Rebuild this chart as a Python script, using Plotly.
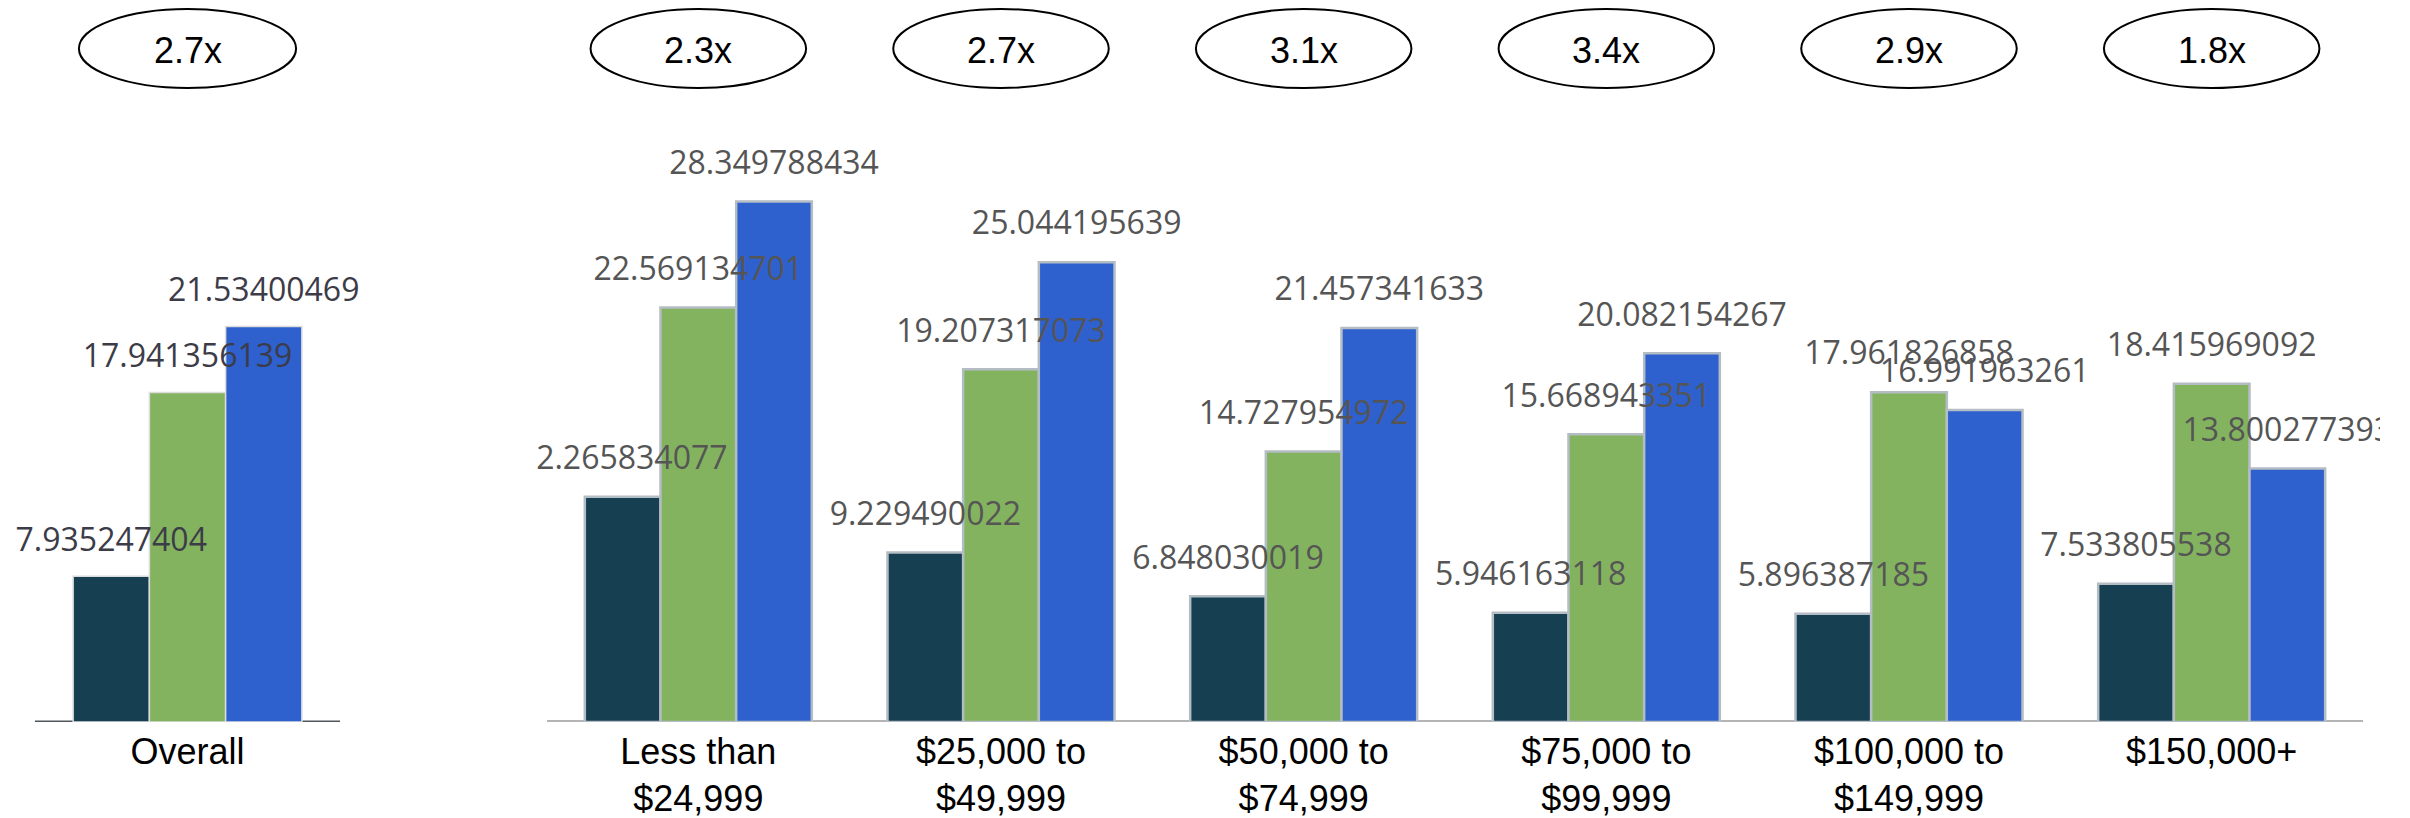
import plotly.graph_objects as go

# ---------------- data ----------------
overall_label = ["Overall"]
income_labels = ["Less than<br>$24,999", "$25,000 to<br>$49,999", "$50,000 to<br>$74,999",
                 "$75,000 to<br>$99,999", "$100,000 to<br>$149,999", "$150,000+"]

overall_dark = [7.935247404]
overall_green = [17.941356139]
overall_blue = [21.53400469]

income_dark = [12.265834077, 9.229490022, 6.848030019, 5.946163118, 5.896387185, 7.533805538]
income_green = [22.569134701, 19.207317073, 14.727954972, 15.668943351, 17.961826858, 18.415969092]
income_blue = [28.349788434, 25.044195639, 21.457341633, 20.082154267, 16.991963261, 13.800277393]

overall_ratio = ["2.7x"]
income_ratios = ["2.3x", "2.7x", "3.1x", "3.4x", "2.9x", "1.8x"]

series_names = ["Series 1", "Series 2", "Series 3"]

# ---------------- style ----------------
COLORS = ["#163F52", "#84B360", "#2E60CE"]
W, H = 2410, 818
BOTTOM = 96          # px below the zero line
YMAX = 39.32         # value range shown in the plot height
LABEL_FONT = "Open Sans, Arial, sans-serif"
TICK_FONT = "Liberation Sans, Arial, sans-serif"

fig = go.Figure()

left_series = [overall_dark, overall_green, overall_blue]
right_series = [income_dark, income_green, income_blue]

for i in range(3):
    fig.add_trace(go.Bar(
        x=overall_label, y=left_series[i], name=series_names[i],
        xaxis="x", yaxis="y",
        marker=dict(color=COLORS[i], line=dict(color="#dcdcdc", width=1.5)),
        showlegend=False, hoverinfo="y"))
for i in range(3):
    fig.add_trace(go.Bar(
        x=income_labels, y=right_series[i], name=series_names[i],
        xaxis="x2", yaxis="y2",
        marker=dict(color=COLORS[i], line=dict(color="#b4bcc4", width=2.5)),
        showlegend=False, hoverinfo="y"))

# value labels (grouped scatter text, aligned with the grouped bars)
for i in range(3):
    fig.add_trace(go.Scatter(
        x=overall_label, y=left_series[i], xaxis="x", yaxis="y",
        mode="markers+text", text=[str(v) for v in left_series[i]],
        textposition="top center", orientation="v",
        marker=dict(size=26, opacity=0),
        textfont=dict(family=LABEL_FONT, size=32, color="#3c3c48"),
        cliponaxis=False, showlegend=False, hoverinfo="skip"))
for i in range(3):
    fig.add_trace(go.Scatter(
        x=income_labels, y=right_series[i], xaxis="x2", yaxis="y2",
        mode="markers+text", text=[str(v) for v in right_series[i]],
        textposition="top center", orientation="v",
        marker=dict(size=30, opacity=0),
        textfont=dict(family=LABEL_FONT, size=32, color="#555555"),
        cliponaxis=True, showlegend=False, hoverinfo="skip"))

shapes = []
annotations = []
ELL_HALF = 0.356
ELL_Y0 = 1 - 88 / (H - BOTTOM)
ELL_Y1 = 1 - 9 / (H - BOTTOM)
TXT_Y = 1 - 50 / (H - BOTTOM)

# left panel
shapes.append(dict(type="line", xref="x", yref="y", x0=-0.5, x1=0.5, y0=0, y1=0,
                   line=dict(color="#50555c", width=3), layer="below"))
for k, r in enumerate(overall_ratio):
    shapes.append(dict(type="circle", xref="x", yref="paper",
                       x0=k - ELL_HALF, x1=k + ELL_HALF, y0=ELL_Y0, y1=ELL_Y1,
                       line=dict(color="black", width=2)))
    annotations.append(dict(xref="x", yref="paper", x=k, y=TXT_Y, text=r, showarrow=False,
                            xanchor="center", yanchor="middle",
                            font=dict(family=TICK_FONT, size=36, color="black")))

# right panel
shapes.append(dict(type="line", xref="x2", yref="y2", x0=-0.5, x1=len(income_labels) - 0.5,
                   y0=0, y1=0, line=dict(color="#b4b4b4", width=4), layer="below"))
for k, r in enumerate(income_ratios):
    shapes.append(dict(type="circle", xref="x2", yref="paper",
                       x0=k - ELL_HALF, x1=k + ELL_HALF, y0=ELL_Y0, y1=ELL_Y1,
                       line=dict(color="black", width=2)))
    annotations.append(dict(xref="x2", yref="paper", x=k, y=TXT_Y, text=r, showarrow=False,
                            xanchor="center", yanchor="middle",
                            font=dict(family=TICK_FONT, size=36, color="black")))

pad = 17 / ((2363 - 547) / 6)
axis_common = dict(type="category", showgrid=False, zeroline=False, showline=False,
                   ticks="", ticklabelstandoff=5, automargin=False,
                   tickfont=dict(family=TICK_FONT, size=36, color="black"),
                   fixedrange=True)

fig.update_layout(
    width=W, height=H,
    margin=dict(l=0, r=0, t=0, b=BOTTOM, pad=0, autoexpand=False),
    paper_bgcolor="white", plot_bgcolor="rgba(0,0,0,0)",
    barmode="group", bargap=0.25, bargroupgap=0,
    scattermode="group", scattergap=0.25,
    showlegend=False,
    xaxis=dict(domain=[35 / W, 340 / W], range=[-0.5, 0.5], anchor="y", **axis_common),
    yaxis=dict(domain=[0, 1], range=[0, YMAX], visible=False, anchor="x",
               fixedrange=True, automargin=False),
    xaxis2=dict(domain=[530 / W, 2380 / W], range=[-0.5 - pad, len(income_labels) - 0.5 + pad],
                anchor="y2", **axis_common),
    yaxis2=dict(domain=[0, 1], range=[0, YMAX], visible=False, anchor="x2",
                fixedrange=True, automargin=False),
    shapes=shapes, annotations=annotations,
)

fig.write_html("out.html")
